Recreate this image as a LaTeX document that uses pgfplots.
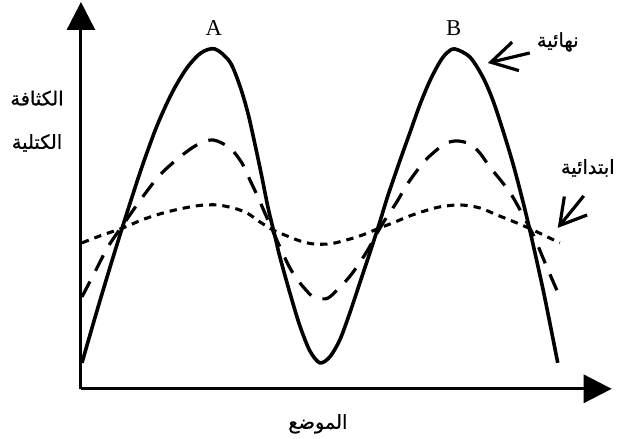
\documentclass[border=0pt]{standalone}
\usepackage{fontspec}
\setmainfont{Liberation Serif}
\newfontfamily\arabicfont[Script=Arabic,FakeBold=0.8]{DejaVu Sans}
\usepackage{pgfplots}
\pgfplotsset{compat=1.18}
\usetikzlibrary{arrows.meta}
\TeXXeTstate=1

\begin{document}
\begin{tikzpicture}
\begin{axis}[
    scale only axis,
    width=398.25pt, height=290.25pt,
    xmin=81, xmax=612,
    ymin=50, ymax=437,
    axis lines=left,
    axis line style={line width=2.2pt, -{Triangle[width=21pt,length=21pt]}},
    xtick=\empty, ytick=\empty,
    clip=false,
]
% final profile (solid)
\addplot[black, line width=2.7pt, smooth] coordinates {
    (82,76) (97,128) (112,178) (127,226) (142,272) (157,313) (172,346)
    (187,371) (201,386) (215,390) (230,377) (240,353) (248,326) (255,295)
    (262,262) (268,232) (275,203) (280,182) (290,146) (300,113) (310,88)
    (320,76) (330,82) (340,99) (350,126) (360,156) (370,186) (380,217)
    (388,243) (400,278) (410,306) (420,334) (430,358) (440,377) (447,386)
    (455,390) (470,382) (483,362) (493,339) (503,309) (513,276) (522,242)
    (530,209) (544,146) (558,76)
};
% intermediate (dashed)
\addplot[black, line width=2.4pt, smooth, dash pattern=on 13pt off 9pt] coordinates {
    (82,142) (95,167) (108,192) (123,214) (142,241) (160,264) (180,282)
    (197,294) (213,299) (230,291) (242,276) (250,259) (258,242) (268,219)
    (280,192) (290,171) (300,156) (313,142) (322,140) (330,142) (347,159)
    (357,172) (368,189) (382,214) (397,237) (407,254) (420,272) (430,283)
    (445,295) (457,298) (470,295) (480,286) (490,272) (503,256) (513,242)
    (530,211) (537,196) (547,172) (560,142)
};
% initial profile (dotted)
\addplot[black, line width=2.3pt, smooth, dash pattern=on 5.5pt off 4.5pt] coordinates {
    (82,196) (100,203) (123,211) (142,219) (160,225) (180,230) (200,233.5)
    (217,234) (233,231) (247,226) (260,217) (273,209) (287,203) (300,198)
    (313,195) (330,195) (347,199) (363,204) (380,211) (393,216) (410,223)
    (425,228) (440,232) (460,234) (480,231) (497,224) (517,216) (533,209)
    (560,196)
};
\path (axis cs:0,0) rectangle (axis cs:619,439);
\node[font=\fontsize{17}{19}\selectfont] at (axis cs:214,411) {A};
\node[font=\fontsize{17}{19}\selectfont] at (axis cs:454,411) {B};
\node[font=\arabicfont\fontsize{14.5}{16}\selectfont] at (axis cs:37,341) {\beginR الكثافة\endR};
\node[font=\arabicfont\fontsize{14.5}{16}\selectfont] at (axis cs:37,296) {\beginR الكتلية\endR};
\node[font=\arabicfont\fontsize{14.5}{16}\selectfont] at (axis cs:318,15) {\beginR الموضع\endR};
\node[font=\arabicfont\fontsize{14.5}{16}\selectfont] at (axis cs:558,397) {\beginR نهائية\endR};
\node[font=\arabicfont\fontsize{14.5}{16}\selectfont] at (axis cs:588,271) {\beginR ابتدائية\endR};
\draw[line width=2.4pt, -{Straight Barb[length=19pt,width=22pt]}] (axis cs:530,386) -- (axis cs:488,376);
\draw[line width=2.4pt, -{Straight Barb[length=19pt,width=22pt]}] (axis cs:584,243) -- (axis cs:558,211);
\end{axis}
\end{tikzpicture}
\end{document}
